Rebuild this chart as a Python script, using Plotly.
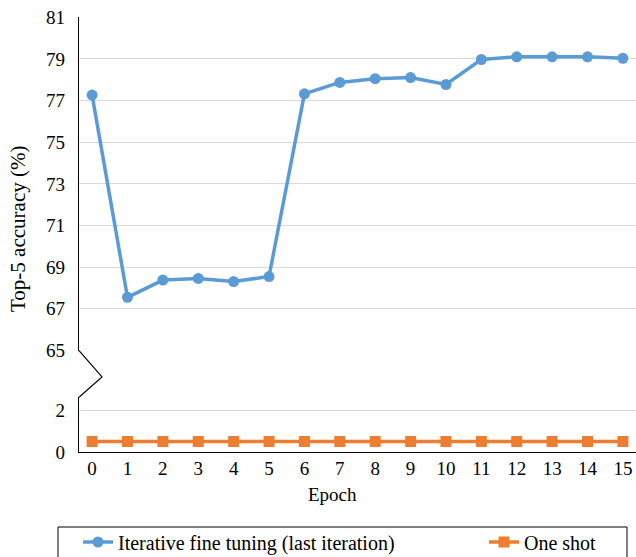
import plotly.graph_objects as go

# Top-5 accuracy per epoch
epochs = list(range(16))
iterative_acc = [77.26, 67.55, 68.38, 68.46, 68.31, 68.55, 77.32, 77.87,
                 78.05, 78.10, 77.77, 78.97, 79.10, 79.10, 79.10, 79.03]
one_shot_acc = [0.5] * 16

upper_ticks = [65, 67, 69, 71, 73, 75, 77, 79, 81]
lower_ticks = [0, 2]

BLUE = "#5B9BD5"
ORANGE = "#ED7D31"
GRID = "#D9D9D9"
FONT = "Liberation Serif, Times New Roman, serif"

W, H = 636, 557
ML, MR, MT, MB = 79, 0, 17, 105
PW, PH = W - ML - MR, H - MT - MB

def px_x(x):
    return (x - ML) / PW

def px_y(y):
    return (H - MB - y) / PH

upper_bottom = 350.7
lower_top = 397.3

fig = go.Figure()
fig.add_trace(go.Scatter(
    x=epochs, y=iterative_acc, mode="lines+markers",
    name="Iterative fine tuning (last iteration)",
    line=dict(color=BLUE, width=3.5),
    marker=dict(symbol="circle", size=11, color=BLUE),
    xaxis="x", yaxis="y", legend="legend",
))
fig.add_trace(go.Scatter(
    x=epochs, y=one_shot_acc, mode="lines+markers",
    name="One shot",
    line=dict(color=ORANGE, width=3.5),
    marker=dict(symbol="square", size=11, color=ORANGE),
    xaxis="x", yaxis="y2", legend="legend2",
))

tick_font = dict(family=FONT, size=19, color="#000000")
legend_y = (H - 542) / H  # container coordinates

fig.update_layout(
    width=W, height=H,
    margin=dict(l=ML, r=MR, t=MT, b=MB, autoexpand=False),
    paper_bgcolor="white", plot_bgcolor="white",
    font=dict(family=FONT, size=19, color="#000000"),
    xaxis=dict(
        domain=[0, 1], anchor="y2", range=[-0.37, 15.37],
        tickmode="array", tickvals=epochs, ticktext=[str(e) for e in epochs],
        showgrid=False, zeroline=False, showline=True, linecolor="#000000",
        linewidth=1.2, ticks="", tickfont=tick_font, ticklabelstandoff=-1,
    ),
    yaxis=dict(
        domain=[px_y(upper_bottom), 1], anchor="x", range=[64.99, 81.01],
        tickmode="array", tickvals=upper_ticks,
        showgrid=True, gridcolor=GRID, gridwidth=1, zeroline=False,
        showline=True, linecolor="#000000", linewidth=1.2, ticks="",
        tickfont=tick_font, ticklabelstandoff=9,
    ),
    yaxis2=dict(
        domain=[0, px_y(lower_top)], anchor="x", range=[0, 2.63],
        tickmode="array", tickvals=lower_ticks,
        showgrid=True, gridcolor=GRID, gridwidth=1, zeroline=False,
        showline=True, linecolor="#000000", linewidth=1.2, ticks="",
        tickfont=tick_font, ticklabelstandoff=9,
    ),
    legend=dict(
        orientation="h", x=px_x(78), xanchor="left",
        yref="container", y=legend_y, yanchor="middle",
        bgcolor="rgba(0,0,0,0)", borderwidth=0, font=dict(family=FONT, size=20),
    ),
    legend2=dict(
        orientation="h", x=px_x(484), xanchor="left",
        yref="container", y=legend_y, yanchor="middle",
        bgcolor="rgba(0,0,0,0)", borderwidth=0, font=dict(family=FONT, size=20),
    ),
    showlegend=True,
)

# Axis break zigzag between the two y ranges
fig.add_shape(
    type="path", xref="paper", yref="paper",
    path=(f"M {px_x(ML)} {px_y(upper_bottom)} "
          f"L {px_x(102)} {px_y(376.9)} "
          f"L {px_x(ML)} {px_y(lower_top)}"),
    line=dict(color="#000000", width=1.2),
)

# Legend frame
fig.add_shape(
    type="rect", xref="paper", yref="paper",
    x0=px_x(58), x1=px_x(627), y0=px_y(527), y1=px_y(600),
    line=dict(color="#000000", width=1), fillcolor="rgba(0,0,0,0)",
)

# Axis titles
fig.add_annotation(
    text="Top-5 accuracy (%)", xref="paper", yref="paper",
    x=px_x(18), y=px_y(229), textangle=-90, showarrow=False,
    font=dict(family=FONT, size=21), xanchor="center", yanchor="middle",
)
fig.add_annotation(
    text="Epoch", xref="paper", yref="paper",
    x=px_x(332), y=px_y(495), showarrow=False,
    font=dict(family=FONT, size=19), xanchor="center", yanchor="middle",
)

fig.write_html("out.html")
